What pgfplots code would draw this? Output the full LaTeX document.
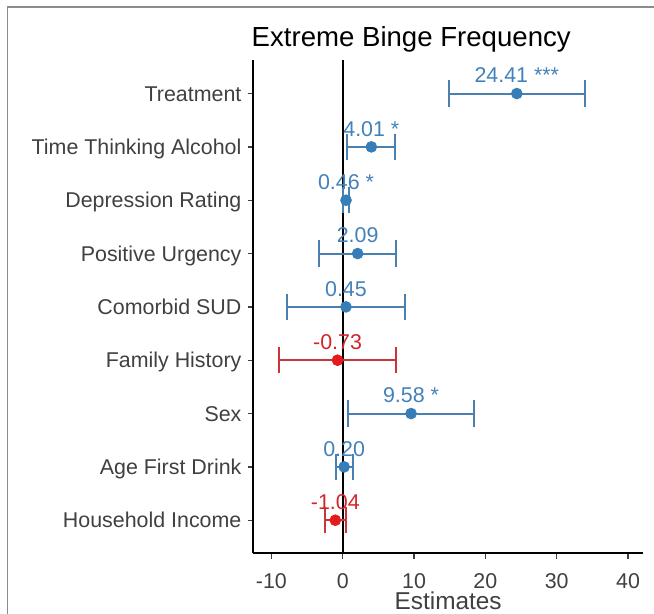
\documentclass[border=0pt]{standalone}
\usepackage{fontspec}
\setmainfont{Liberation Sans}
\usepackage{pgfplots}
\usepackage{pgfplotstable}
\pgfplotsset{compat=1.18}
\definecolor{cblue}{HTML}{377EB8}
\definecolor{lblue}{HTML}{4281BA}
\definecolor{cred}{HTML}{E41A1C}
\definecolor{lred}{HTML}{D0262B}
\definecolor{eblue}{HTML}{4A80B0}
\definecolor{ered}{HTML}{C8353A}
\definecolor{txtgray}{HTML}{404040}
\definecolor{framegray}{HTML}{8C8C8C}

\pgfplotstableread[col sep=comma]{
y,est,ep,em,lab
9,24.41,9.59,9.51,24.41 ***
8,4.01,3.32,3.41,4.01 *
7,0.46,0.38,0.38,0.46 *
6,2.09,5.41,5.39,2.09
5,0.45,8.25,8.25,0.45
3,9.58,8.88,8.88,9.58 *
2,0.20,1.17,1.17,0.20
}\bluedata

\pgfplotstableread[col sep=comma]{
y,est,ep,em,lab
4,-0.73,8.23,8.22,-0.73
1,-1.04,1.45,1.45,-1.04
}\reddata

\begin{document}
\begin{tikzpicture}
\useasboundingbox (-126.65pt,-30.35pt) rectangle (200.35pt,276.65pt);
\draw[framegray, line width=0.75pt] (-122.9pt,-31pt) -- (-122.9pt,273.15pt) -- (201pt,273.15pt);
\begin{axis}[
  at={(0pt,0pt)}, anchor=south west,
  scale only axis,
  width=194.85pt, height=246.4pt,
  xmin=-12.54, xmax=42.1,
  ymin=0.38, ymax=9.62,
  axis lines*=left,
  axis line style={black, line width=0.8pt},
  clip=false,
  xtick={-10,0,10,20,30,40},
  ytick={1,2,3,4,5,6,7,8,9},
  yticklabels={Household Income,Age First Drink,Sex,Family History,Comorbid SUD,Positive Urgency,Depression Rating,Time Thinking Alcohol,Treatment},
  tick align=outside,
  major tick length=2.75pt,
  tick style={txtgray, line width=0.7pt},
  /pgf/number format/assume math mode=true,
  ticklabel style={font=\fontsize{10.7pt}{12pt}\selectfont, text=txtgray},
  xticklabel style={anchor=base, inner sep=0pt, yshift=-14.8pt},
  yticklabel style={anchor=mid east, inner sep=0pt, xshift=-3pt, yshift=-1.2pt},
  xlabel={Estimates},
  xlabel style={at={(axis description cs:0.5,0)}, anchor=base, inner sep=0pt, yshift=-28.3pt, font=\fontsize{12.2pt}{14pt}\selectfont, text=txtgray},
  nodes near coords,
  point meta=explicit symbolic,
  every node near coord/.append style={anchor=base, yshift=5.3pt, inner sep=0pt, font=\fontsize{10.7pt}{12pt}\selectfont},
]
\addplot[black, line width=0.9pt, nodes near coords=] coordinates {(0,0.38) (0,9.62)};
\addplot[
  only marks, mark=*, mark size=2.7pt, color=cblue,
  every node near coord/.append style={text=lblue},
  error bars/.cd, x dir=both, x explicit,
  error bar style={eblue, line width=1pt},
  error mark options={eblue, line width=1pt, mark size=6.6pt, rotate=90},
] table[x=est, y=y, x error plus=ep, x error minus=em, meta=lab] {\bluedata};
\addplot[
  only marks, mark=*, mark size=2.7pt, color=cred,
  every node near coord/.append style={text=lred},
  error bars/.cd, x dir=both, x explicit,
  error bar style={ered, line width=1pt},
  error mark options={ered, line width=1pt, mark size=6.6pt, rotate=90},
] table[x=est, y=y, x error plus=ep, x error minus=em, meta=lab] {\reddata};
\end{axis}
\node[anchor=base west, inner sep=0pt, font=\fontsize{13.8pt}{16pt}\selectfont] at (-1pt,253.6pt) {Extreme Binge Frequency};
\end{tikzpicture}
\end{document}
